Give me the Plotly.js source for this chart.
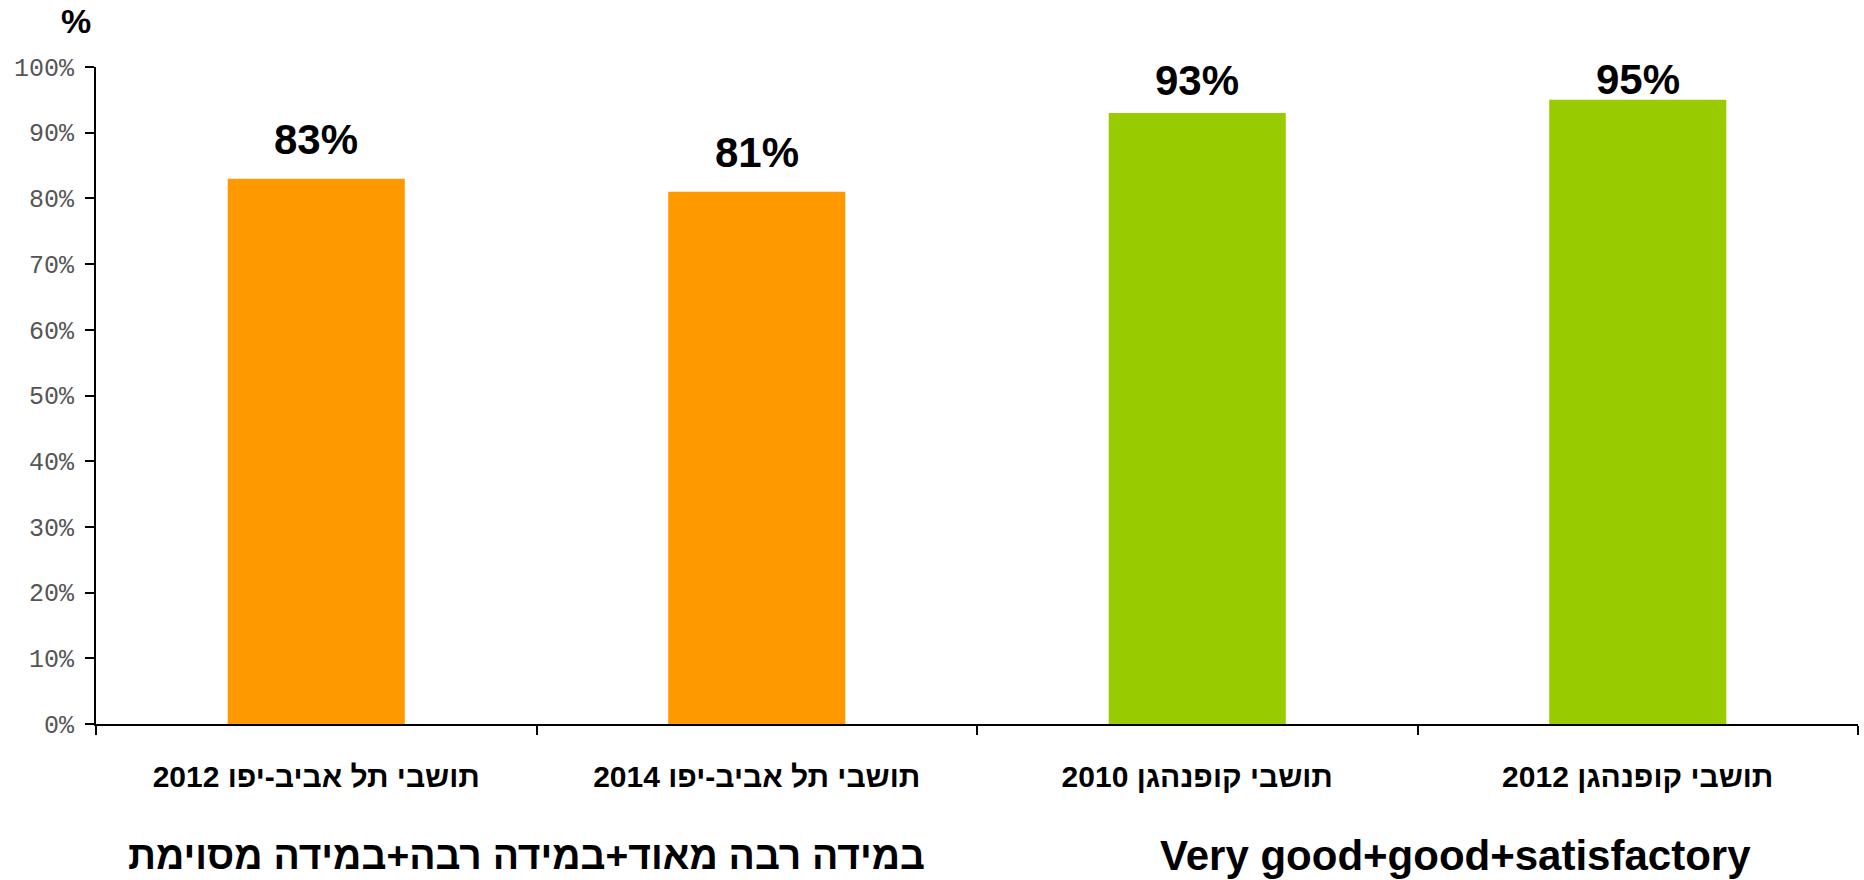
<!DOCTYPE html>
<html>
<head>
<meta charset="utf-8">
<script src="https://cdn.plot.ly/plotly-3.0.1.min.js"></script>
<style>html,body{margin:0;padding:0;background:#fff;}#chart{width:1864px;height:880px;}</style>
</head>
<body>
<div id="chart"></div>
<script>
// ---- data ----
const categories = ["תושבי תל אביב-יפו 2012", "תושבי תל אביב-יפו 2014", "תושבי קופנהגן 2010", "תושבי קופנהגן 2012"];
const values = [83, 81, 93, 95];
const valueLabels = ["83%", "81%", "93%", "95%"];
const groupTitles = ["במידה רבה מאוד+במידה רבה+במידה מסוימת", "Very good+good+satisfactory"];
const yTitle = "%";

// ---- styles ----
const barColors = ["#FF9900", "#FF9900", "#99CC00", "#99CC00"];
const labelGap = [14, 14, 7, -5];
const groupTitleX = [0.2446, 0.7713];
const groupTitleSize = [39, 42];
const rtl = s => "\u202B" + s + "\u202C";
const boldFont = "Liberation Sans, Arial, sans-serif";

const trace = {
  type: "bar",
  x: categories,
  y: values,
  marker: {color: barColors, line: {width: 0}},
  hoverinfo: "none"
};

const annotations = [];
categories.forEach((c, i) => {
  annotations.push({
    x: c, y: values[i], xref: "x", yref: "y",
    text: valueLabels[i], showarrow: false,
    yanchor: "bottom", yshift: labelGap[i],
    font: {family: boldFont, size: 42, color: "#000", weight: "bold"}
  });
});
groupTitles.forEach((t, i) => {
  annotations.push({
    x: groupTitleX[i], y: -0.2009, xref: "paper", yref: "paper",
    text: rtl(t), showarrow: false, xanchor: "center", yanchor: "middle",
    font: {family: boldFont, size: groupTitleSize[i], color: "#000", weight: "bold"}
  });
});
annotations.push({
  x: (76 - 96) / 1762, y: (724 - 21) / 657, xref: "paper", yref: "paper",
  text: yTitle, showarrow: false, xanchor: "center", yanchor: "middle",
  font: {family: boldFont, size: 34, color: "#000", weight: "bold"}
});

const layout = {
  width: 1864, height: 880,
  margin: {l: 96, r: 6, t: 67, b: 156, pad: 0},
  paper_bgcolor: "#fff", plot_bgcolor: "#fff",
  showlegend: false,
  bargap: 0.598,
  xaxis: {
    type: "category",
    tickvals: categories,
    ticktext: categories.map(rtl),
    tickson: "boundaries",
    ticks: "outside", ticklen: 9, tickwidth: 2, tickcolor: "#000",
    showline: true, linecolor: "#000", linewidth: 2,
    showgrid: false, zeroline: false,
    ticklabelstandoff: 25,
    tickfont: {family: boldFont, size: 30, color: "#000", weight: "bold"},
    fixedrange: true
  },
  yaxis: {
    range: [0, 100], dtick: 10, tick0: 0,
    ticksuffix: "%",
    ticks: "outside", ticklen: 9, tickwidth: 2, tickcolor: "#000",
    showline: true, linecolor: "#000", linewidth: 2,
    showgrid: false, zeroline: false,
    ticklabelstandoff: 6,
    tickfont: {family: "Liberation Mono, Courier New, monospace", size: 25, color: "#555"},
    fixedrange: true
  },
  annotations: annotations
};

Plotly.newPlot("chart", [trace], layout, {displayModeBar: false, staticPlot: true});
</script>
</body>
</html>
